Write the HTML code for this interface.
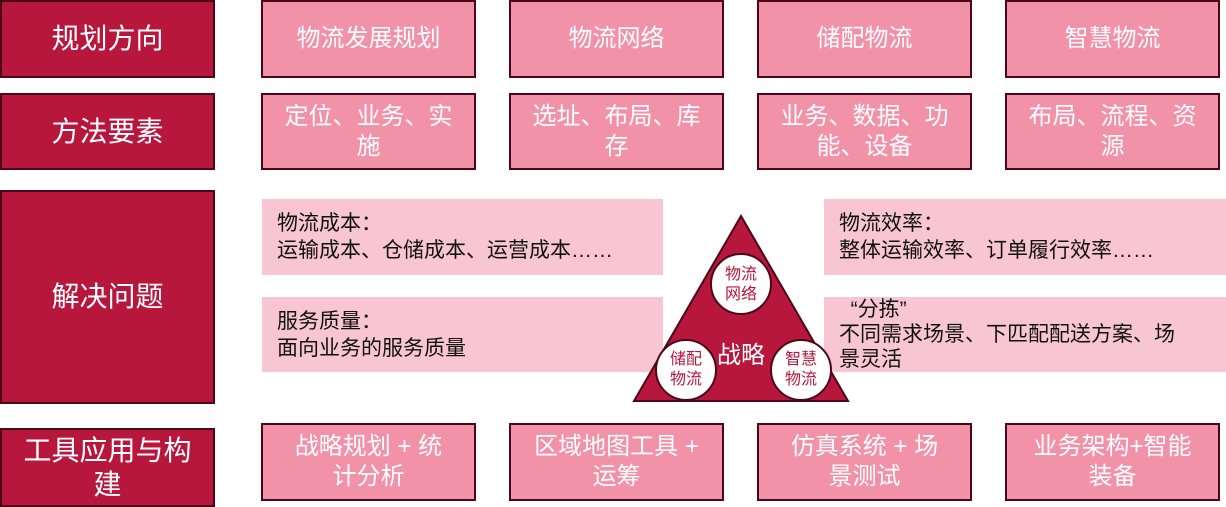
<!DOCTYPE html>
<html><head><meta charset="utf-8"><style>
body{margin:0;width:1226px;height:507px;background:#fff;position:relative;overflow:hidden;font-family:"Liberation Sans","Noto Sans CJK SC",sans-serif}
.b{position:absolute;box-sizing:border-box;border:2px solid #4d0617;display:flex;align-items:center;justify-content:center;text-align:center;color:#fff}
.d{background:#b7163d;font-size:28px;line-height:34px}
.p{background:#f192a9;font-size:24px;line-height:30px;padding:0 4px;white-space:nowrap}
.l{position:absolute;background:#f8c6d3;color:#111;font-size:21px;line-height:27px;box-sizing:border-box;padding-left:15px}
</style></head><body>
<div class="b d" style="left:0;top:0;width:215px;height:78px">规划方向</div>
<div class="b d" style="left:0;top:93px;width:215px;height:77px">方法要素</div>
<div class="b d" style="left:0;top:190px;width:215px;height:214px">解决问题</div>
<div class="b d" style="left:0;top:428px;width:215px;height:79px">工具应用与构<br>建</div>

<div class="b p" style="left:261px;top:0;width:215px;height:78px">物流发展规划</div>
<div class="b p" style="left:509px;top:0;width:215px;height:78px">物流网络</div>
<div class="b p" style="left:757px;top:0;width:215px;height:78px">储配物流</div>
<div class="b p" style="left:1005px;top:0;width:215px;height:78px">智慧物流</div>

<div class="b p" style="left:261px;top:93px;width:215px;height:77px">定位、业务、实<br>施</div>
<div class="b p" style="left:509px;top:93px;width:215px;height:77px">选址、布局、库<br>存</div>
<div class="b p" style="left:757px;top:93px;width:215px;height:77px">业务、数据、功<br>能、设备</div>
<div class="b p" style="left:1005px;top:93px;width:215px;height:77px">布局、流程、资<br>源</div>

<div class="b p" style="left:261px;top:423px;width:215px;height:78px">战略规划 + 统<br>计分析</div>
<div class="b p" style="left:509px;top:423px;width:215px;height:78px">区域地图工具 +<br>运筹</div>
<div class="b p" style="left:757px;top:423px;width:215px;height:78px">仿真系统 + 场<br>景测试</div>
<div class="b p" style="left:1005px;top:423px;width:215px;height:78px">业务架构+智能<br>装备</div>

<div class="l" style="left:262px;top:199px;width:401px;height:76px;padding-top:11px">物流成本：<br>运输成本、仓储成本、运营成本……</div>
<div class="l" style="left:262px;top:297px;width:401px;height:75px;padding-top:11px">服务质量：<br>面向业务的服务质量</div>
<div class="l" style="left:824px;top:199px;width:402px;height:76px;padding-top:11px">物流效率：<br>整体运输效率、订单履行效率……</div>

<svg style="position:absolute;left:0;top:0" width="1226" height="507">
<polygon points="741,216 634,401 848,401" fill="#b7163d" stroke="#4d0617" stroke-width="2"/>
</svg>
<div class="l" style="left:824px;top:297px;width:402px;height:75px;padding-top:0;line-height:25px;overflow:hidden">&nbsp;&nbsp;“分拣”<br>不同需求场景、下匹配配送方案、场<br>景灵活</div>
<svg style="position:absolute;left:0;top:0" width="1226" height="507" font-family="Liberation Sans, Noto Sans CJK SC, sans-serif">
<circle cx="741" cy="284" r="30" fill="#fff" stroke="#4d0617" stroke-width="2"/>
<circle cx="686" cy="370" r="30" fill="#fff" stroke="#4d0617" stroke-width="2"/>
<circle cx="801" cy="370" r="30" fill="#fff" stroke="#4d0617" stroke-width="2"/>
<g fill="#b7163d" font-size="16" text-anchor="middle">
<text x="741" y="279">物流</text><text x="741" y="299">网络</text>
<text x="686" y="364">储配</text><text x="686" y="384">物流</text>
<text x="801" y="364">智慧</text><text x="801" y="384">物流</text>
</g>
<text x="741" y="363" fill="#fff" font-size="24" text-anchor="middle">战略</text>
</svg>
</body></html>
